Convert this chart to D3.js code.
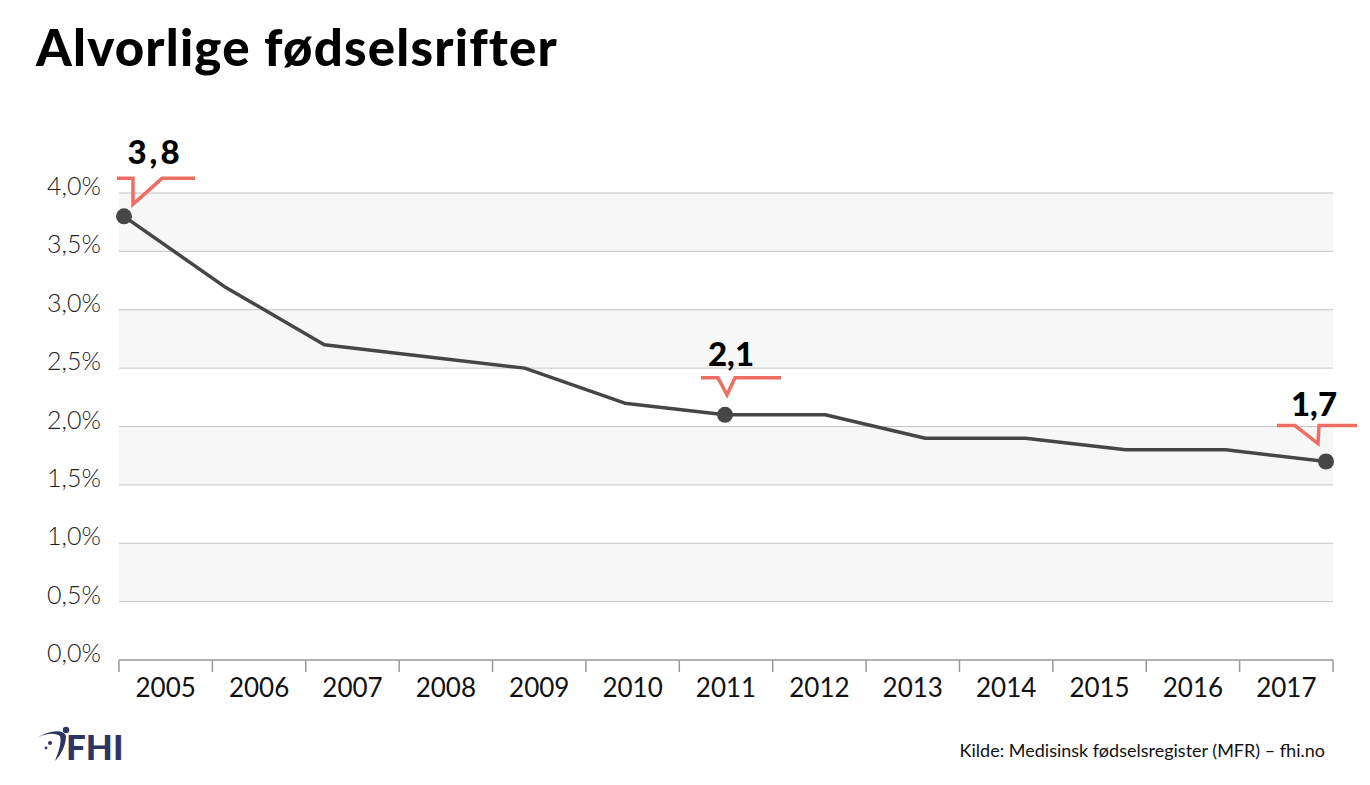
<!DOCTYPE html>
<html>
<head>
<meta charset="utf-8">
<script src="https://cdn.jsdelivr.net/npm/d3@7"></script>
<style>
  body { margin: 0; background: #fff; }
  text { font-family: Lato, "Noto Sans", sans-serif; }
</style>
</head>
<body>
<script>
const width = 1370;
const height = 785;

const years = [2005, 2006, 2007, 2008, 2009, 2010, 2011, 2012, 2013, 2014, 2015, 2016, 2017];
const values = [3.8, 3.2, 2.7, 2.6, 2.5, 2.2, 2.1, 2.1, 1.9, 1.9, 1.8, 1.8, 1.7];
const yTicks = [0, 0.5, 1, 1.5, 2, 2.5, 3, 3.5, 4];
const highlighted = [2005, 2011, 2017];

const plotLeft = 119, plotRight = 1333, plotTop = 193, plotBottom = 660;

const svg = d3.select('body').append('svg')
    .attr('width', width)
    .attr('height', height);

const yScale = d3.scaleLinear()
    .domain([0, 4])
    .range([plotBottom, plotTop]);

// kategorier for aksen
const xBand = d3.scaleBand()
    .domain(years)
    .range([plotLeft, plotRight]);

// punktene ligger nesten helt ut mot kantene
const xPoint = d3.scalePoint()
    .domain(years)
    .range([plotLeft + 5, plotRight - 7]);

// grå bånd annenhver halvprosent
const bands = yTicks.slice(0, -1).filter((d, i) => i % 2 === 1);
svg.append('g').selectAll('rect')
    .data(bands)
    .enter().append('rect')
    .attr('x', plotLeft)
    .attr('width', plotRight - plotLeft)
    .attr('y', d => yScale(d + 0.5))
    .attr('height', d => yScale(d) - yScale(d + 0.5))
    .style('fill', '#f7f7f7');

// rutenett
svg.append('g').selectAll('line')
    .data(yTicks.slice(1))
    .enter().append('line')
    .attr('x1', plotLeft)
    .attr('x2', plotRight)
    .attr('y1', d => yScale(d))
    .attr('y2', d => yScale(d))
    .style('stroke', '#c4c4c4')
    .style('stroke-width', 1);

// y-etiketter
svg.append('g').selectAll('text')
    .data(yTicks)
    .enter().append('text')
    .attr('x', 101)
    .attr('y', d => yScale(d) + 2)
    .attr('text-anchor', 'end')
    .style('font-size', '25px')
    .style('font-weight', 300)
    .style('fill', '#222')
    .text(d => d3.format('.1f')(d).replace('.', ',') + '%');

// x-akse
const xAxis = d3.axisBottom(xBand).tickSize(0).tickPadding(19);
const gx = svg.append('g')
    .attr('transform', 'translate(0,' + plotBottom + ')')
    .call(xAxis);
gx.select('.domain').remove();
gx.selectAll('text')
    .style('font-size', '26px')
    .style('font-family', 'Lato, "Noto Sans", sans-serif')
    .style('fill', '#111');

svg.append('line')
    .attr('x1', plotLeft).attr('x2', plotRight)
    .attr('y1', plotBottom).attr('y2', plotBottom)
    .style('stroke', '#999')
    .style('stroke-width', 1.5);

const edges = years.map(y => xBand(y)).concat([plotRight]);
svg.append('g').selectAll('line')
    .data(edges)
    .enter().append('line')
    .attr('x1', d => d).attr('x2', d => d)
    .attr('y1', plotBottom).attr('y2', plotBottom + 12)
    .style('stroke', '#999')
    .style('stroke-width', 1.5);

// linjen
const line = d3.line()
    .x((d, i) => xPoint(years[i]))
    .y(d => yScale(d));

svg.append('path')
    .attr('d', line(values))
    .style('fill', 'none')
    .style('stroke', '#464646')
    .style('stroke-width', 3.5)
    .style('stroke-linejoin', 'round');

// markerte punkter med snakkeboble
const callouts = {
    2005: { path: [[-7, -38], [9, -38], [9, -12], [38, -38], [71, -38]], tx: 31, ty: -52, ls: 3 },
    2011: { path: [[-24, -37], [-7, -37], [2, -20], [10, -37], [56, -37]], tx: 6, ty: -49, ls: 0 },
    2017: { path: [[-49, -36], [-31, -36], [-8, -18], [-7, -36], [31, -36]], tx: -12, ty: -46, ls: 0 }
};

highlighted.forEach(yr => {
    const i = years.indexOf(yr);
    const px = xPoint(yr), py = yScale(values[i]);
    const c = callouts[yr];
    svg.append('path')
        .attr('d', d3.line()(c.path.map(p => [px + p[0], py + p[1]])))
        .style('fill', 'none')
        .style('stroke', '#ef6e63')
        .style('stroke-width', 3.5);
    svg.append('text')
        .attr('x', px + c.tx)
        .attr('y', py + c.ty)
        .attr('text-anchor', 'middle')
        .style('font-size', '33px')
        .style('font-weight', 900)
        .style('letter-spacing', c.ls + 'px')
        .style('fill', '#000')
        .text(String(values[i]).replace('.', ','));
    svg.append('circle')
        .attr('cx', px)
        .attr('cy', py)
        .attr('r', 8)
        .style('fill', '#464646');
});

// tittel
svg.append('text')
    .attr('x', 36)
    .attr('y', 66)
    .style('font-size', '51px')
    .style('font-weight', 900)
    .style('letter-spacing', '1.2px')
    .style('fill', '#000')
    .text('Alvorlige fødselsrifter');

// kilde
svg.append('text')
    .attr('x', 1325)
    .attr('y', 757)
    .attr('text-anchor', 'end')
    .style('font-size', '18px')
    .style('fill', '#111')
    .text('Kilde: Medisinsk fødselsregister (MFR) – fhi.no');

// FHI-logo
const logo = svg.append('g').attr('transform', 'translate(34,727)');
logo.append('path')
    .attr('d', 'M0,13 C9,6 20,5 26,9 C28,16 24,26 21,34 C28,27 32,17 32,9 C30,2 15,2 0,13 Z')
    .style('fill', '#2e3561');
logo.append('circle').attr('cx', 32).attr('cy', 3).attr('r', 3.2).style('fill', '#2e3561');
logo.append('circle').attr('cx', 16).attr('cy', 16).attr('r', 2).style('fill', '#2e3561');
logo.append('circle').attr('cx', 12).attr('cy', 21).attr('r', 1.4).style('fill', '#2e3561');
logo.append('text')
    .attr('x', 32)
    .attr('y', 33)
    .style('font-size', '35px')
    .style('font-weight', 900)
    .style('fill', '#2e3561')
    .text('FHI');
</script>
</body>
</html>
